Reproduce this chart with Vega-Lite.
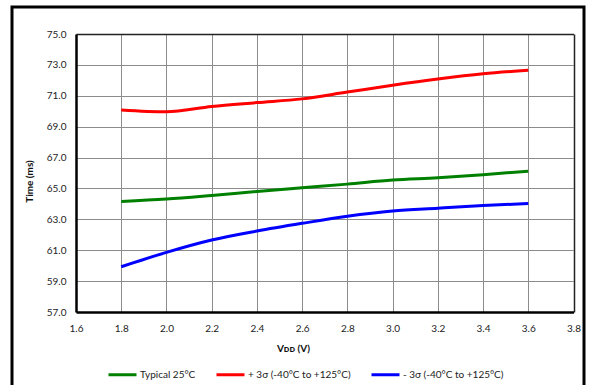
{
  "$schema": "https://vega.github.io/schema/vega-lite/v6.json",
  "width": 572,
  "height": 380,
  "autosize": {"type": "none"},
  "padding": {"left": 12, "top": 7, "right": 5, "bottom": 0},
  "background": "white",
  "config": {
    "view": {"stroke": "black", "strokeWidth": 3},
    "font": "Lato",
    "axis": {"labelFont": "Lato", "titleFont": "Lato", "labelColor": "#222", "titleColor": "#111"}
  },
  "data": {
    "values": [
      {"vdd": 1.8, "time": 64.16, "series": "Typical 25°C"},
      {"vdd": 2.0, "time": 64.32, "series": "Typical 25°C"},
      {"vdd": 2.2, "time": 64.55, "series": "Typical 25°C"},
      {"vdd": 2.4, "time": 64.8, "series": "Typical 25°C"},
      {"vdd": 2.6, "time": 65.04, "series": "Typical 25°C"},
      {"vdd": 2.8, "time": 65.28, "series": "Typical 25°C"},
      {"vdd": 3.0, "time": 65.54, "series": "Typical 25°C"},
      {"vdd": 3.2, "time": 65.69, "series": "Typical 25°C"},
      {"vdd": 3.4, "time": 65.89, "series": "Typical 25°C"},
      {"vdd": 3.6, "time": 66.12, "series": "Typical 25°C"},
      {"vdd": 1.8, "time": 70.08, "series": "+ 3σ (-40°C to +125°C)"},
      {"vdd": 2.0, "time": 69.96, "series": "+ 3σ (-40°C to +125°C)"},
      {"vdd": 2.2, "time": 70.31, "series": "+ 3σ (-40°C to +125°C)"},
      {"vdd": 2.4, "time": 70.56, "series": "+ 3σ (-40°C to +125°C)"},
      {"vdd": 2.6, "time": 70.8, "series": "+ 3σ (-40°C to +125°C)"},
      {"vdd": 2.8, "time": 71.24, "series": "+ 3σ (-40°C to +125°C)"},
      {"vdd": 3.0, "time": 71.68, "series": "+ 3σ (-40°C to +125°C)"},
      {"vdd": 3.2, "time": 72.08, "series": "+ 3σ (-40°C to +125°C)"},
      {"vdd": 3.4, "time": 72.42, "series": "+ 3σ (-40°C to +125°C)"},
      {"vdd": 3.6, "time": 72.65, "series": "+ 3σ (-40°C to +125°C)"},
      {"vdd": 1.8, "time": 59.93, "series": "- 3σ (-40°C to +125°C)"},
      {"vdd": 2.0, "time": 60.86, "series": "- 3σ (-40°C to +125°C)"},
      {"vdd": 2.2, "time": 61.66, "series": "- 3σ (-40°C to +125°C)"},
      {"vdd": 2.4, "time": 62.24, "series": "- 3σ (-40°C to +125°C)"},
      {"vdd": 2.6, "time": 62.74, "series": "- 3σ (-40°C to +125°C)"},
      {"vdd": 2.8, "time": 63.2, "series": "- 3σ (-40°C to +125°C)"},
      {"vdd": 3.0, "time": 63.54, "series": "- 3σ (-40°C to +125°C)"},
      {"vdd": 3.2, "time": 63.72, "series": "- 3σ (-40°C to +125°C)"},
      {"vdd": 3.4, "time": 63.89, "series": "- 3σ (-40°C to +125°C)"},
      {"vdd": 3.6, "time": 64.03, "series": "- 3σ (-40°C to +125°C)"}
    ]
  },
  "mark": {"type": "line", "strokeWidth": 3, "interpolate": "monotone"},
  "encoding": {
    "x": {
      "field": "vdd", "type": "quantitative",
      "scale": {"domain": [1.6, 3.8], "range": [64, 561.5], "nice": false, "zero": false},
      "axis": {
        "orient": "top",
        "title": "Vᴅᴅ (V)", "titleFontSize": 10, "titleFontWeight": "bold",
        "titleX": 281, "titleY": 314, "titleAlign": "center", "titleBaseline": "middle",
        "values": [1.6, 1.8, 2.0, 2.2, 2.4, 2.6, 2.8, 3.0, 3.2, 3.4, 3.6, 3.8],
        "format": ".1f", "labelFontSize": 10, "labelFlush": false,
        "labelBaseline": "top", "labelPadding": -289,
        "ticks": false, "tickSize": 0, "offset": -27,
        "domainColor": "#222", "domainWidth": 1.5,
        "grid": true,
        "gridWidth": {"condition": {"test": "datum.value >= 3.79", "value": 1.5}, "value": 1},
        "gridColor": {"condition": {"test": "datum.value >= 3.79", "value": "#222"}, "value": "#8c8c8c"}
      }
    },
    "y": {
      "field": "time", "type": "quantitative",
      "scale": {"domain": [57, 75], "range": [305, 27], "nice": false, "zero": false},
      "axis": {
        "title": "Time (ms)", "titleFontSize": 10, "titleFontWeight": "bold",
        "titleX": -47, "titleY": 174, "titleAlign": "center", "titleBaseline": "middle", "titleAngle": -90,
        "values": [57, 59, 61, 63, 65, 67, 69, 71, 73, 75],
        "format": ".1f", "labelFontSize": 10, "labelPadding": 10, "labelFlush": false,
        "ticks": false, "tickSize": 0, "offset": -64,
        "domainColor": "black", "domainWidth": 2.5,
        "grid": true,
        "gridWidth": {"condition": {"test": "datum.value <= 57.1", "value": 2.5}, "value": 1},
        "gridColor": {"condition": {"test": "datum.value <= 57.1", "value": "black"}, "value": "#8c8c8c"}
      }
    },
    "color": {
      "field": "series", "type": "nominal",
      "scale": {
        "domain": ["Typical 25°C", "+ 3σ (-40°C to +125°C)", "- 3σ (-40°C to +125°C)"],
        "range": ["#008000", "#ff0000", "#0000ff"]
      },
      "legend": {
        "title": null, "orient": "none", "direction": "horizontal",
        "legendX": 95, "legendY": 352, "padding": 0,
        "symbolType": "stroke", "symbolSize": 784, "symbolStrokeWidth": 3,
        "labelFont": "Lato", "labelFontSize": 10, "labelColor": "#222", "labelOffset": 2,
        "columnPadding": 14, "labelLimit": 300
      }
    }
  }
}
